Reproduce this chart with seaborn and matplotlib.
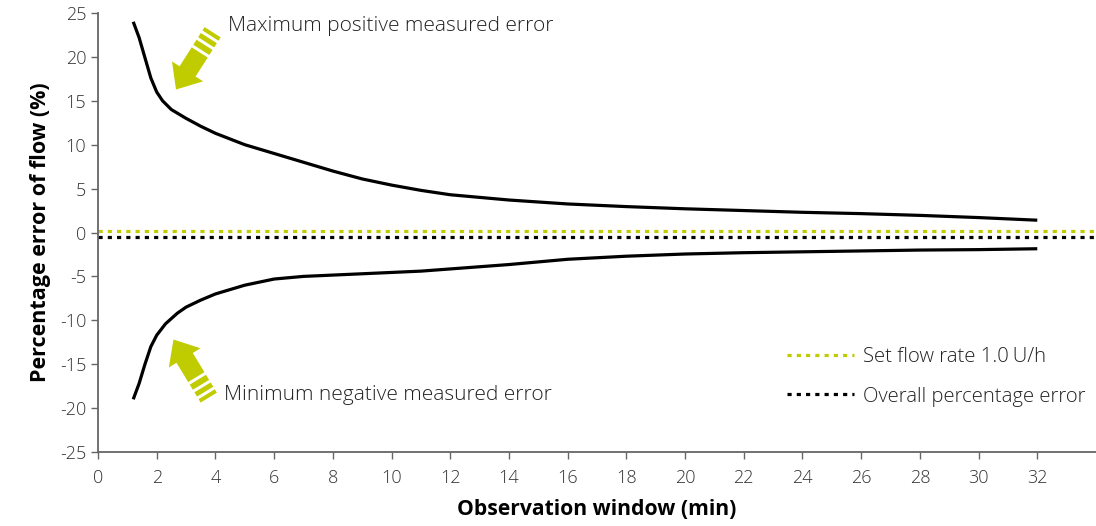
import numpy as np
import pandas as pd
import matplotlib
matplotlib.use("Agg")
import matplotlib.pyplot as plt
from matplotlib.patches import Polygon
import seaborn as sns

# ---- data ----
win_max = [1.2, 1.4, 1.6, 1.8, 2.0, 2.2, 2.5, 3.0, 3.5, 4, 5, 6, 7, 8, 9, 10, 11, 12, 14, 16, 18, 20, 22, 24, 26, 28, 30, 32]
max_pos_err = [24.0, 22.2, 19.9, 17.6, 16.0, 15.0, 14.0, 13.0, 12.1, 11.3, 10.0, 9.0, 8.0, 7.0, 6.1, 5.4, 4.8, 4.3, 3.7, 3.25, 2.95, 2.7, 2.5, 2.3, 2.15, 1.95, 1.7, 1.4]
win_min = [1.2, 1.4, 1.6, 1.8, 2.0, 2.3, 2.7, 3.0, 3.5, 4, 4.7, 5, 6, 7, 8, 9, 10, 11, 12, 14, 16, 18, 20, 22, 24, 26, 28, 30, 32]
min_neg_err = [-19.0, -17.2, -15.0, -13.0, -11.7, -10.4, -9.2, -8.5, -7.7, -7.0, -6.3, -6.0, -5.3, -5.0, -4.85, -4.7, -4.55, -4.4, -4.15, -3.65, -3.05, -2.7, -2.45, -2.3, -2.2, -2.1, -2.0, -1.95, -1.85]
set_flow_rate = 0.15
overall_err = -0.5
x_ticks = list(range(0, 33, 2))
y_ticks = list(range(-25, 26, 5))

GREEN = "#c0cc00"
df = pd.DataFrame({"window": win_max + win_min,
                   "err": max_pos_err + min_neg_err,
                   "series": ["max"] * len(win_max) + ["min"] * len(win_min)})

sns.set_theme(style="white")
plt.rcParams["font.family"] = ["Open Sans", "DejaVu Sans"]
plt.rcParams["axes.unicode_minus"] = False

fig = plt.figure(figsize=(10.96, 5.26), dpi=100)
ax = fig.add_axes([98 / 1096, 1 - 452 / 526, 1 - 98 / 1096, (452 - 13) / 526])

for s in ["max", "min"]:
    sub = df[df.series == s]
    sns.lineplot(data=sub, x="window", y="err", ax=ax, color="black", lw=2.3, legend=False)
for l in ax.lines:
    l.set_solid_joinstyle("round")
    l.set_solid_capstyle("butt")

ax.axhline(set_flow_rate, color=GREEN, lw=2.3, ls=(0, (1.3, 1.6)), label="Set flow rate 1.0\u2009U/h")
ax.axhline(overall_err, color="black", lw=2.3, ls=(0, (1.3, 1.6)), label="Overall percentage error")

ax.set_xlim(0, 34)
ax.set_ylim(-25, 25)
ax.set_xticks(x_ticks)
ax.set_yticks(y_ticks)
ax.tick_params(axis="both", which="both", direction="out", length=5, width=1, color="#666666",
               labelsize=13, labelcolor="#333333", left=True, bottom=True)
for lab in ax.get_xticklabels() + ax.get_yticklabels():
    lab.set_fontweight("light")
ax.tick_params(axis="x", pad=7)
for sp in ["top", "right"]:
    ax.spines[sp].set_visible(False)
for sp in ["left", "bottom"]:
    ax.spines[sp].set_color("#666666")
    ax.spines[sp].set_linewidth(1.3)

ax.set_xlabel("Observation window (min)", fontsize=15.2, fontweight="bold", color="black", labelpad=9)
ax.set_ylabel("Percentage error of flow (%)", fontsize=15.5, fontweight="bold", color="black", labelpad=6)

leg = ax.legend(loc="lower right", bbox_to_anchor=(0.998, 0.085), frameon=False,
                prop={"size": 14.6, "weight": "light"},
                handlelength=3.3, labelspacing=0.95, handletextpad=0.45, borderaxespad=0)
for t in leg.get_texts():
    t.set_color("#222222")

ax.text(228 / 1096, 1 - 26 / 526, "Maximum positive measured error", transform=fig.transFigure,
        fontsize=15, fontweight="light", color="#222222", va="center", ha="left")
ax.text(224 / 1096, 1 - 395 / 526, "Minimum negative measured error", transform=fig.transFigure,
        fontsize=15, fontweight="light", color="#222222", va="center", ha="left")


def striped_arrow(tip_px, direction):
    """Arrow drawn in figure pixels (y up) from a tip location."""
    d = np.array(direction, float)
    d /= np.linalg.norm(d)
    n = np.array([-d[1], d[0]])
    head_len, head_w, shaft_w = 21.5, 37, 19
    tip = np.array(tip_px, float)

    def P(a, b):
        return tip + d * a + n * b

    W, H = 1096.0, 526.0

    def to_fig(pts):
        return [(p[0] / W, p[1] / H) for p in pts]

    body = [P(0, 0), P(head_len, head_w / 2), P(head_len, shaft_w / 2), P(44, shaft_w / 2),
            P(44, -shaft_w / 2), P(head_len, -shaft_w / 2), P(head_len, -head_w / 2)]
    fig.patches.append(Polygon(to_fig(body), closed=True, transform=fig.transFigure, color=GREEN, lw=0))
    for a0, a1 in [(47, 53), (56, 61), (64, 68)]:
        stripe = [P(a0, shaft_w / 2), P(a1, shaft_w / 2), P(a1, -shaft_w / 2), P(a0, -shaft_w / 2)]
        fig.patches.append(Polygon(to_fig(stripe), closed=True, transform=fig.transFigure, color=GREEN, lw=0))


striped_arrow((176.0, 526 - 89.5), (39, 61))
striped_arrow((173.5, 526 - 339.5), (37, -61))

fig.savefig("out.png", dpi=100)
